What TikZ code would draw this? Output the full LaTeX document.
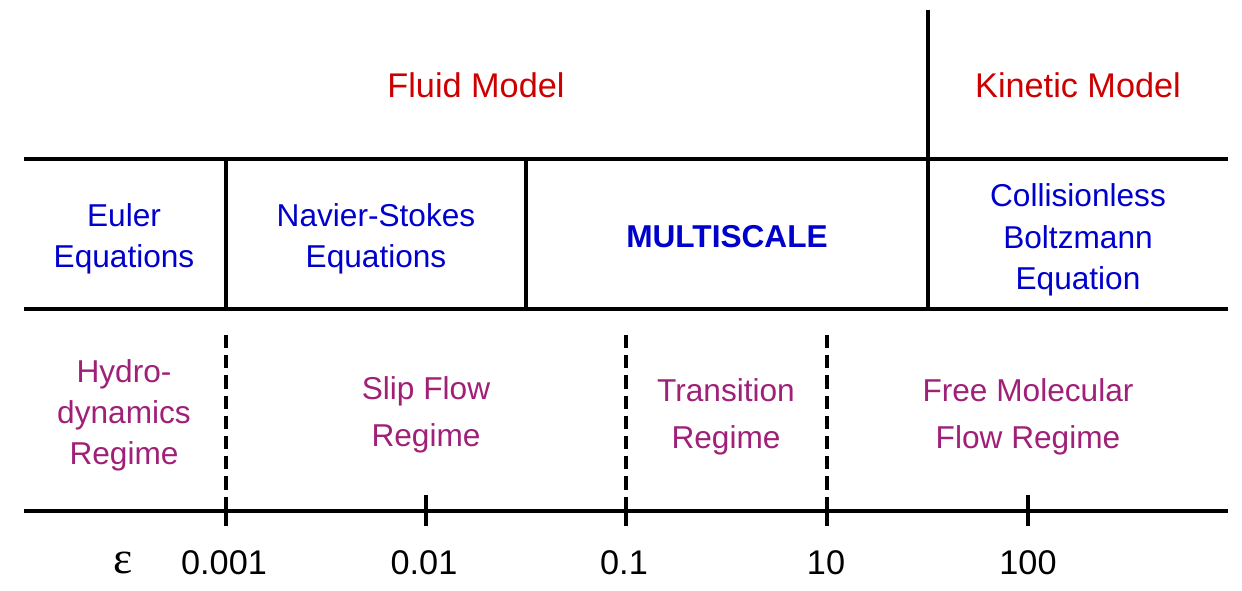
\documentclass[tikz,border=0pt]{standalone}
\usepackage{fontspec}
\setmainfont{Liberation Sans}
\newfontfamily\epsfont{Liberation Serif}
\definecolor{modelred}{RGB}{204,0,0}
\definecolor{eqblue}{RGB}{0,0,204}
\definecolor{regimepurple}{RGB}{160,32,120}

\begin{document}
\begin{tikzpicture}
            [x=0.02cm, y=-0.02cm, line width=2.3pt,
             model/.style={text=modelred, align=center, font=\fontsize{19.5}{24}\selectfont},
             equation/.style={text=eqblue, align=center, font=\fontsize{18}{23.5}\selectfont},
             regime/.style={text=regimepurple, align=center, font=\fontsize{18}{26.5}\selectfont},
             ticklabel/.style={font=\fontsize{19.5}{24}\selectfont},
             border/.style={dash pattern=on 7.5pt off 4pt, line width=2pt}]
            \useasboundingbox (0, 0) rectangle (1242, 591);

            % grid lines
            \coordinate (topL) at (24, 159);
            \coordinate (topR) at (1228, 159);
            \coordinate (midL) at (24, 309);
            \coordinate (midR) at (1228, 309);
            \coordinate (axisL) at (24, 511);
            \coordinate (axisR) at (1228, 511);
            \coordinate (kinTop) at (928, 10);
            \coordinate (kinBot) at (928, 309);
            \coordinate (eulTop) at (226, 159);
            \coordinate (eulBot) at (226, 309);
            \coordinate (nsTop) at (526, 159);
            \coordinate (nsBot) at (526, 309);

            \draw (topL) -- (topR);
            \draw (midL) -- (midR);
            \draw (axisL) -- (axisR);
            \draw (kinTop) -- (kinBot);
            \draw (eulTop) -- (eulBot);
            \draw (nsTop) -- (nsBot);

            % models
            \node[model] (fluid) at (476, 85) {Fluid Model};
            \node[model] (kinetic) at (1078, 85) {Kinetic Model};

            % equations
            \node[equation] (euler) at (124, 239) {Euler\\Equations};
            \node[equation] (navier) at (376, 239) {Navier-Stokes\\Equations};
            \node[equation, font=\fontsize{18}{24}\selectfont\bfseries] (multi) at (727, 237) {MULTISCALE};
            \node[equation] (boltz) at (1078, 240) {Collisionless\\Boltzmann\\Equation};

            % regimes
            \node[regime, font=\fontsize{18}{23.3}\selectfont] (hydro) at (124, 415) {Hydro-\\dynamics\\Regime};
            \node[regime] (slip) at (426, 415) {Slip Flow\\Regime};
            \node[regime] (trans) at (726, 417) {Transition\\Regime};
            \node[regime] (free) at (1028, 417) {Free Molecular\\Flow Regime};

            % axis
            \coordinate (d1top) at (226, 335);
            \coordinate (d1) at (226, 511);
            \coordinate (d1bot) at (226, 526);
            \coordinate (d2top) at (626, 335);
            \coordinate (d2) at (626, 511);
            \coordinate (d2bot) at (626, 526);
            \coordinate (d3top) at (827, 335);
            \coordinate (d3) at (827, 511);
            \coordinate (d3bot) at (827, 526);
            \coordinate (t1top) at (426, 495);
            \coordinate (t1bot) at (426, 526);
            \coordinate (t2top) at (1028, 495);
            \coordinate (t2bot) at (1028, 526);

            \draw[border] (d1top) -- (d1);
            \draw[border] (d2top) -- (d2);
            \draw[border] (d3top) -- (d3);
            \draw (d1) -- (d1bot);
            \draw (d2) -- (d2bot);
            \draw (d3) -- (d3bot);
            \draw (t1top) -- (t1bot);
            \draw (t2top) -- (t2bot);

            \node[ticklabel, font=\fontsize{26}{26}\epsfont] (eps) at (123, 563) {ε};
            \node[ticklabel] (lab1) at (224, 563) {0.001};
            \node[ticklabel] (lab2) at (424, 563) {0.01};
            \node[ticklabel] (lab3) at (624, 563) {0.1};
            \node[ticklabel] (lab4) at (826, 563) {10};
            \node[ticklabel] (lab5) at (1028, 563) {100};
        \end{tikzpicture}
\end{document}
